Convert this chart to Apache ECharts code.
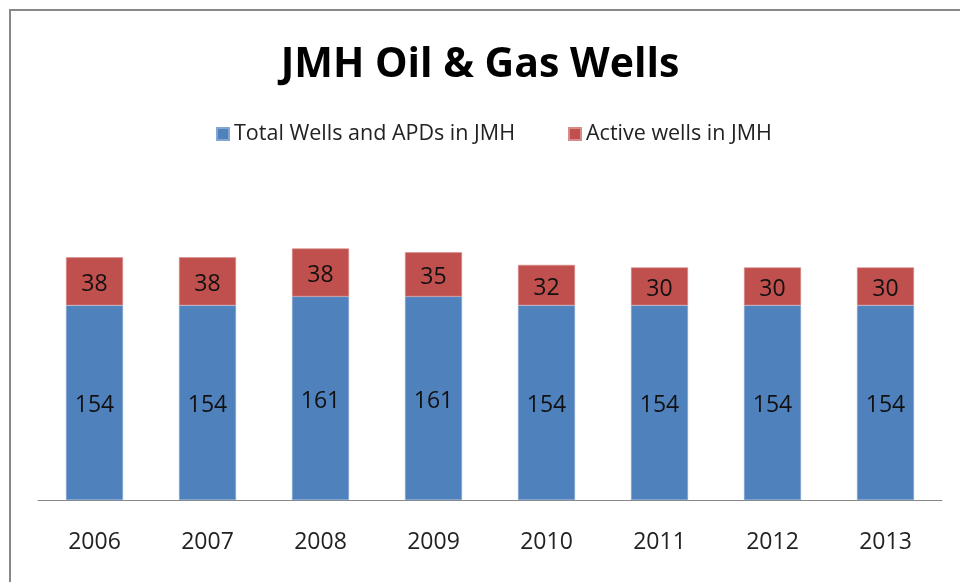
<!DOCTYPE html>
<html>
<head>
<meta charset="utf-8">
<script src="https://cdn.jsdelivr.net/npm/echarts@6/dist/echarts.min.js"></script>
<style>
  html, body { margin: 0; padding: 0; background: #fff; }
  #main { width: 960px; height: 582px; }
</style>
</head>
<body>
<div id="main"></div>
<script>
var years = ['2006', '2007', '2008', '2009', '2010', '2011', '2012', '2013'];
var totalWells = [154, 154, 161, 161, 154, 154, 154, 154];
var activeWells = [38, 38, 38, 35, 32, 30, 30, 30];

var font = 'Open Sans';
var chart = echarts.init(document.getElementById('main'));

var labelStyle = {
    show: true,
    position: 'inside',
    offset: [0, 3],
    color: '#111',
    fontSize: 23,
    fontFamily: font
};

chart.setOption({
    animation: false,
    backgroundColor: '#fff',
    title: {
        text: 'JMH Oil & Gas Wells',
        left: 'center',
        top: 40,
        textStyle: { fontSize: 41, fontWeight: 'bold', color: '#000', fontFamily: font }
    },
    legend: {
        top: 118,
        left: 211,
        itemWidth: 12,
        itemHeight: 12,
        itemGap: 53,
        icon: 'rect',
        textStyle: { fontSize: 21.5, color: '#222', fontFamily: font },
        data: ['Total Wells and APDs in JMH', 'Active wells in JMH']
    },
    graphic: [{
        type: 'rect',
        silent: true,
        shape: { x: 10, y: 10, width: 1000, height: 1000 },
        style: { fill: 'none', stroke: '#888', lineWidth: 2 }
    }],
    grid: { left: 38, right: 18, top: 184, bottom: 82 },
    xAxis: {
        type: 'category',
        data: years,
        axisLine: { lineStyle: { color: '#888', width: 1 } },
        axisTick: { show: false },
        axisLabel: { fontSize: 23, color: '#222', fontFamily: font, margin: 31 }
    },
    yAxis: {
        type: 'value',
        min: 0,
        max: 250,
        show: false
    },
    series: [{
        name: 'Total Wells and APDs in JMH',
        type: 'bar',
        stack: 'wells',
        barWidth: 57,
        data: totalWells,
        itemStyle: { color: '#4F81BD', borderColor: '#86a6d2', borderWidth: 0.6 },
        label: labelStyle
    }, {
        name: 'Active wells in JMH',
        type: 'bar',
        stack: 'wells',
        barWidth: 57,
        data: activeWells,
        itemStyle: { color: '#C0504D', borderColor: '#d68c8a', borderWidth: 0.6 },
        label: labelStyle
    }]
});
</script>
</body>
</html>
